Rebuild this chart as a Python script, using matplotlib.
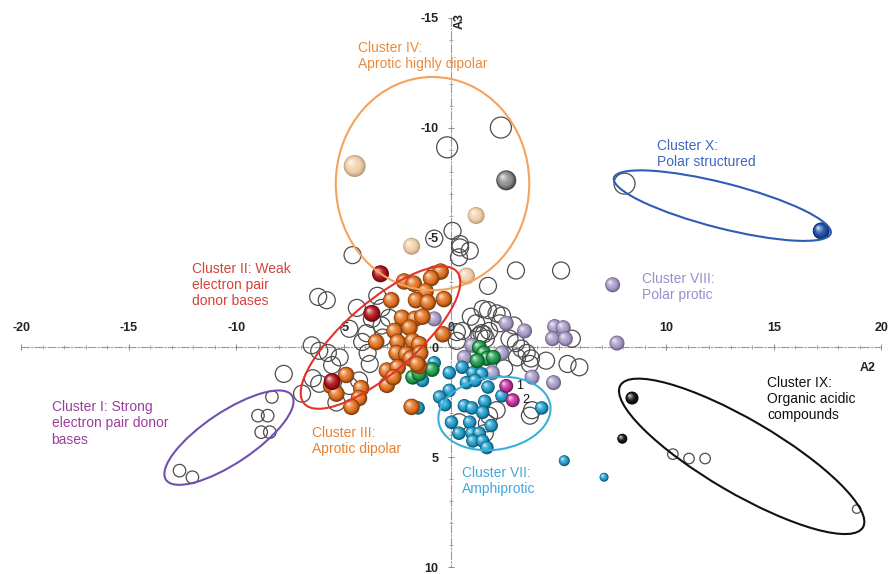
import numpy as np
import matplotlib
matplotlib.use("Agg")
import matplotlib.pyplot as plt
from matplotlib.patches import Ellipse
from matplotlib.colors import to_rgb
from matplotlib.ticker import FixedLocator

plt.rcParams['font.family'] = ['Liberation Sans', 'DejaVu Sans']
plt.rcParams['axes.unicode_minus'] = False

# ---------------- data: solvent scores on A2 / A3 ----------------
# unclassified solvents (open circles)
open_a2 = [0.05, -0.8, 0.4, 0.85, 0.35, -4.6, 1.7, 3.0, 5.1, -6.2, -5.8, -4.4, -3.7,
           -4.75, -4.15, -3.9, -3.2, -3.25, -2.9, -3.25, -3.45, -6.5, -6.15, -5.75,
           -5.2, -5.55, -7.8, -6.95, -6.45, -6.15, -4.3, -4.75, -5.35, -3.8, -3.95,
           0.25, 0.5, 1.45, 1.7, 2.1, 2.35, 1.15, 1.75, 2.25, 1.4, 1.5, 1.3, 1.6, 2.7,
           3.0, 3.25, 3.5, 3.7, 3.65, 4.4, 5.4, 5.95, 5.6, 2.45, 3.05, 2.1, 1.75, 0.35,
           1.65, 3.75, 3.65, 1.55, 0.4, 0.25, 0.9, 2.9]
open_a3 = [-5.3, -4.95, -4.7, -4.4, -4.1, -4.2, -2.8, -3.5, -3.5, -2.3, -2.15, -1.8, -1.3,
           -0.85, -0.25, 0.25, -0.45, -1.0, -1.35, -1.8, -2.35, -0.1, 0.15, 0.25,
           0.45, 0.8, 1.2, 2.1, 1.4, 1.65, 1.5, 1.75, 2.5, 0.75, -0.65,
           -0.7, -0.75, -1.75, -1.7, -1.55, -1.45, -1.1, -0.75, -1.1, -0.65, -0.6, -0.55, -0.4, -0.4,
           -0.2, 0.05, 0.25, 0.5, 0.75, 0.6, 0.75, 0.9, -0.4, 0.95, 0.45, 2.85, 3.1, 3.4,
           3.45, 2.85, 3.1, 3.9, -4.55, -0.3, -1.4, -1.0]
open_big_a2 = [-0.2, 2.3, 8.05]
open_big_a3 = [-9.1, -10.0, -7.45]
# Cluster I members
c1_a2 = [-8.35, -9.0, -8.55, -8.85, -8.45, -12.65, -12.05]
c1_a3 = [2.25, 3.1, 3.1, 3.85, 3.85, 5.6, 5.9]
# Cluster IX unfilled members
c9_open_a2 = [10.3, 11.05, 11.8, 18.85]
c9_open_a3 = [4.85, 5.05, 5.05, 7.35]

# Cluster III: aprotic dipolar
orange_a2 = [-0.8, -0.5, -0.95, -2.2, -1.75, -1.2, -1.65, -1.1, -0.35, -2.8, -2.3, -1.7,
             -1.35, -2.65, -1.95, -0.4, -3.5, -2.5, -1.8, -1.5, -2.55, -2.1, -1.9, -1.45,
             -3.0, -2.5, -1.5, -3.0, -2.7, -4.9, -5.6, -5.35, -4.2, -4.3, -4.65, -1.85, -1.6]
orange_a3 = [-3.35, -3.45, -3.15, -3.0, -2.9, -2.55, -2.15, -2.05, -2.2, -2.15, -1.35, -1.3,
             -1.4, -0.75, -0.9, -0.6, -0.25, -0.25, -0.3, -0.15, 0.25, 0.3, 0.5, 0.25,
             1.05, 0.9, 0.85, 1.7, 1.35, 1.25, 1.75, 2.1, 1.85, 2.3, 2.7, 2.7, 0.75]
# Cluster II: weak electron pair donor bases
red_a2 = [-3.3, -3.7, -5.55]
red_a3 = [-3.35, -1.55, 1.55]
# Cluster IV: aprotic highly dipolar
peach_a2 = [-4.5, 1.15, -1.85, 0.7]
peach_a3 = [-8.25, -6.0, -4.6, -3.25]
grey_a2 = [2.55]
grey_a3 = [-7.6]
# Cluster VIII: polar protic
lilac_a2 = [7.5, 7.7, 2.55, 3.4, 4.8, 5.2, 4.7, 5.3, 0.95, 0.6, 2.35, 1.9, 3.75, 4.75, -0.8]
lilac_a3 = [-2.85, -0.2, -1.1, -0.75, -0.95, -0.9, -0.4, -0.4, -0.1, 0.45, 0.25, 1.15, 1.35, 1.6, -1.3]
# green group
green_a2 = [1.3, 1.5, 1.65, 1.95, 1.2, -1.8, -1.5, -0.9]
green_a3 = [0.0, 0.25, 0.5, 0.45, 0.6, 1.35, 1.2, 1.0]
# Cluster VII: amphiprotic
cyan_a2 = [-0.8, -1.35, 0.5, 1.0, 1.4, -0.1, 0.7, 1.1, 1.7, 2.35, -0.1, -0.55, -0.3, 0.6,
           0.95, 1.55, 1.45, 0.0, 0.85, 0.35, 0.95, 1.3, 1.85, 1.0, 1.45, 1.65, 4.2, -1.55]
cyan_a3 = [0.7, 1.5, 0.9, 1.15, 1.2, 1.15, 1.6, 1.5, 1.8, 2.2, 1.95, 2.25, 2.6, 2.65,
           2.75, 2.45, 2.95, 3.4, 3.4, 3.9, 3.9, 3.9, 3.55, 4.25, 4.25, 4.55, 2.75, 2.75]
cyan_far_a2 = [5.25, 7.1]
cyan_far_a3 = [5.15, 5.9]
magenta_a2 = [2.55, 2.85]
magenta_a3 = [1.75, 2.4]
magenta_ids = ['1', '2']
# Cluster X: polar structured
blue_a2 = [17.2]
blue_a3 = [-5.3]
# Cluster IX: organic acidic compounds
black_a2 = [8.4, 7.95]
black_a3 = [2.3, 4.15]

x_ticks = [-20, -15, -10, -5, 0, 5, 10, 15, 20]
y_ticks = [-15, -10, -5, 0, 5, 10]

# ---------------- figure ----------------
DPI = 100
FIG_W, FIG_H = 890, 574
fig = plt.figure(figsize=(FIG_W / DPI, FIG_H / DPI), dpi=DPI)
ax = fig.add_axes([0, 0, 1, 1])
XLIM = (-21.0, 20.4)
YLIM = (10.3, -15.8)
ax.set_xlim(*XLIM)
ax.set_ylim(*YLIM)
xpp = (XLIM[1] - XLIM[0]) / FIG_W          # data units per pixel
ypp = (YLIM[0] - YLIM[1]) / FIG_H

# axes through the origin, dash-dot
for side in ('right', 'bottom'):
    ax.spines[side].set_visible(False)
ax.spines['top'].set_position(('data', 0))
ax.spines['left'].set_position(('data', 0))
ax.spines['top'].set_bounds(x_ticks[0], x_ticks[-1])
ax.spines['left'].set_bounds(y_ticks[0], y_ticks[-1])
for side in ('top', 'left'):
    sp = ax.spines[side]
    sp.set_linestyle((0, (7, 2, 1, 2)))
    sp.set_color('#9a9a9a')
    sp.set_linewidth(0.8)
    sp.set_zorder(1)
ax.xaxis.set_ticks_position('top')
ax.yaxis.set_ticks_position('left')
ax.set_xticks(x_ticks)
ax.set_yticks(y_ticks)
ax.xaxis.set_minor_locator(FixedLocator(np.arange(x_ticks[0], x_ticks[-1] + 1, 1)))
ax.yaxis.set_minor_locator(FixedLocator(np.arange(y_ticks[0], y_ticks[-1] + 1, 1)))
ax.tick_params(which='major', direction='inout', length=5, width=0.7, color='#8a8a8a',
               pad=7, labelsize=9, labelcolor='#222222')
ax.tick_params(which='minor', direction='inout', length=3, width=0.6, color='#9a9a9a')
for lab in ax.get_xticklabels() + ax.get_yticklabels():
    lab.set_fontweight('bold')

ax.text(19.35, 0.95, 'A2', ha='center', va='center', fontsize=9, fontweight='bold', color='#222222')
ax.text(0.4, -14.85, 'A3', ha='center', va='center', fontsize=9, fontweight='bold',
        color='#222222', rotation=90)


def px_size(d):
    return (d * 72.0 / DPI) ** 2


def open_circles(xs, ys, d, lw=0.9):
    ax.scatter(xs, ys, s=px_size(d), facecolors='none', edgecolors='#4d4d4d',
               linewidths=lw, zorder=2)


def spheres(xs, ys, color, d, dark_k=0.55, light_k=0.72, n=10, z=3):
    base = np.array(to_rgb(color))
    dark = base * dark_k
    light = base + (1 - base) * light_k
    px, py, ss, cc = [], [], [], []
    for x, y in zip(xs, ys):
        for i in range(n):
            t = i / (n - 1)
            diam = d * (1 - 0.85 * t)
            shift = 0.5 * d * 0.36 * t
            if t < 0.3:
                c = dark + (base - dark) * (t / 0.3)
            else:
                c = base + (light - base) * ((t - 0.3) / 0.7) ** 1.6
            px.append(x - shift * xpp)
            py.append(y - shift * ypp)
            ss.append(px_size(diam))
            cc.append(np.clip(c, 0, 1))
    ax.scatter(px, py, s=ss, c=cc, linewidths=0, zorder=z)


# open circles
open_circles(open_a2, open_a3, 17)
open_circles(open_big_a2, open_big_a3, 21)
open_circles(c1_a2, c1_a3, 12.5)
open_circles(c9_open_a2[:3], c9_open_a3[:3], 10.5)
open_circles(c9_open_a2[3:], c9_open_a3[3:], 8.5)

# filled spheres
spheres(peach_a2[:1], peach_a3[:1], '#f0cfa8', 22, dark_k=0.78, light_k=0.75)
spheres(peach_a2[1:], peach_a3[1:], '#f0cfa8', 17, dark_k=0.78, light_k=0.75)
spheres(grey_a2, grey_a3, '#8c8c8c', 20, dark_k=0.5, light_k=0.7)
spheres(lilac_a2, lilac_a3, '#a89bc8', 15, dark_k=0.65)
spheres(cyan_a2, cyan_a3, '#1f9ccb', 13.5)
spheres(cyan_far_a2[:1], cyan_far_a3[:1], '#1f9ccb', 11)
spheres(cyan_far_a2[1:], cyan_far_a3[1:], '#1f9ccb', 9)
spheres(green_a2, green_a3, '#1c9c4c', 15)
spheres(orange_a2, orange_a3, '#e2701e', 16.5)
spheres(red_a2, red_a3, '#b3141c', 17)
spheres(magenta_a2, magenta_a3, '#c2329f', 14)
spheres(blue_a2, blue_a3, '#1d4fa6', 17)
spheres(black_a2[:1], black_a3[:1], '#141414', 13, dark_k=0.3, light_k=0.75)
spheres(black_a2[1:], black_a3[1:], '#141414', 10, dark_k=0.3, light_k=0.75)

for x, y, s in zip(magenta_a2, magenta_a3, magenta_ids):
    ax.text(x + 0.45, y, s, ha='left', va='center', fontsize=9, color='#111111', zorder=6)

# cluster outlines
ellipses = [
    ((-0.88, -7.45), 9.0, 9.7, 0, '#f5a25d'),
    ((-3.3, -0.45), 9.3, 3.25, -40, '#e5322b'),
    ((-10.35, 4.1), 7.0, 2.35, -33, '#7050b0'),
    ((2.0, 3.0), 5.25, 3.3, -8, '#3aafdb'),
    ((12.6, -6.45), 10.4, 2.05, 14, '#2e5db5'),
    ((13.5, 4.95), 13.0, 3.35, 29.7, '#111111'),
]
for c, w, h, ang, col in ellipses:
    ax.add_patch(Ellipse(c, w, h, angle=ang, fill=False, edgecolor=col, lw=1.5, zorder=4))

# cluster names
labels = [
    (-4.37, -13.95, 'Cluster IV:\nAprotic highly dipolar', '#e98a3c'),
    (-12.05, -3.9, 'Cluster II: Weak\nelectron pair\ndonor bases', '#d8413a'),
    (-18.6, 2.4, 'Cluster I: Strong\nelectron pair donor\nbases', '#9b3d9e'),
    (-6.5, 3.55, 'Cluster III:\nAprotic dipolar', '#e9802f'),
    (0.5, 5.4, 'Cluster VII:\nAmphiprotic', '#3fa9da'),
    (8.88, -3.45, 'Cluster VIII:\nPolar protic', '#9c8dcb'),
    (9.58, -9.5, 'Cluster X:\nPolar structured', '#3f67be'),
    (14.7, 1.3, 'Cluster IX:\nOrganic acidic\ncompounds', '#111111'),
]
for x, y, t, col in labels:
    ax.text(x, y, t, ha='left', va='top', fontsize=10, color=col, linespacing=1.2, zorder=5)

fig.savefig('out.png', dpi=DPI)
